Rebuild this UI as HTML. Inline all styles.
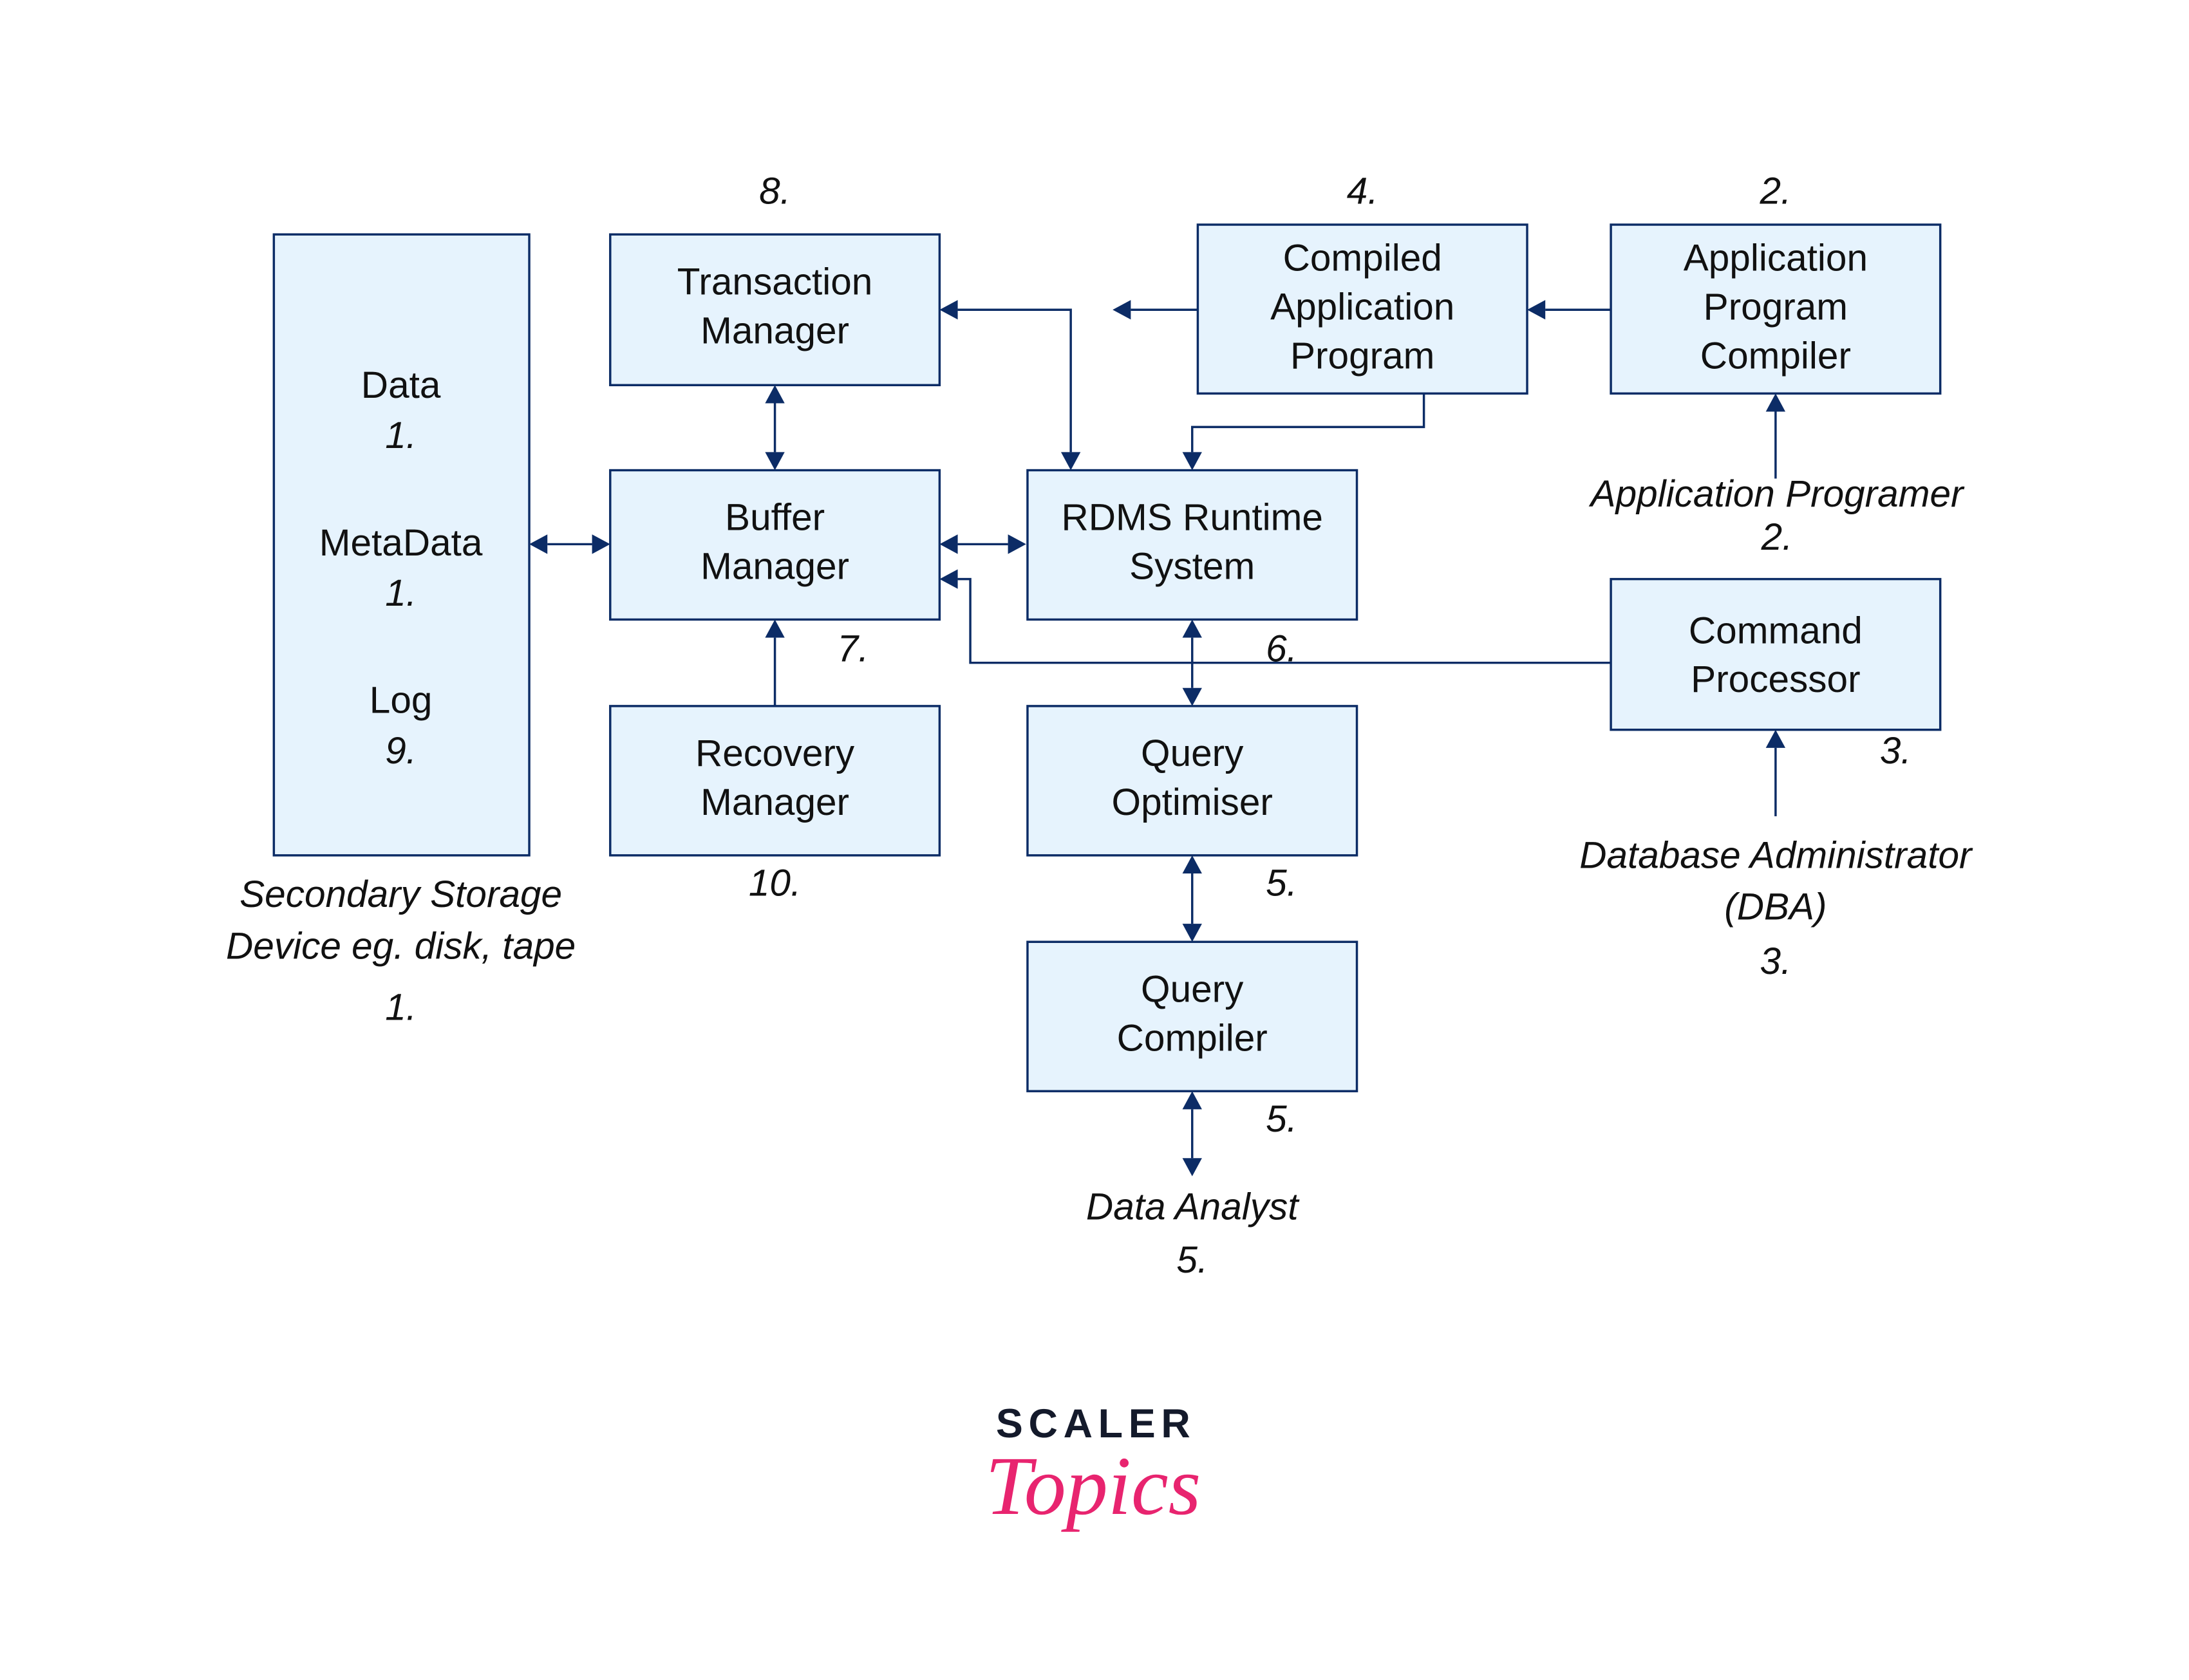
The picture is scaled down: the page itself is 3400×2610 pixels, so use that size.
<!DOCTYPE html>
<html><head><meta charset="utf-8"><style>
html,body{margin:0;padding:0;background:#fff;}
svg{display:block;}
text{font-family:"Liberation Sans Narrow","Liberation Sans",sans-serif;fill:#111;}
.b{fill:#e6f3fd;stroke:#0c2c66;stroke-width:1.6;}
.l{fill:none;stroke:#0c2c66;stroke-width:1.6;}
.t{font-size:27px;text-anchor:middle;dominant-baseline:central;}
.i{font-size:27px;font-style:italic;text-anchor:middle;dominant-baseline:central;}
.a{fill:#0c2c66;}
</style></head><body>
<svg width="3400" height="2610" viewBox="0 0 1568 1204" xmlns="http://www.w3.org/2000/svg">
<rect x="0" y="0" width="1568" height="1204" fill="#fff"/>
<!-- boxes -->
<rect class="b" x="196" y="168" width="183" height="445"/>
<rect class="b" x="437" y="168" width="236" height="108"/>
<rect class="b" x="858" y="161" width="236" height="121"/>
<rect class="b" x="1154" y="161" width="236" height="121"/>
<rect class="b" x="437" y="337" width="236" height="107"/>
<rect class="b" x="736" y="337" width="236" height="107"/>
<rect class="b" x="1154" y="415" width="236" height="108"/>
<rect class="b" x="437" y="506" width="236" height="107"/>
<rect class="b" x="736" y="506" width="236" height="107"/>
<rect class="b" x="736" y="675" width="236" height="107"/>
<!-- lines -->
<path class="l" d="M392 390H424"/>
<path class="l" d="M686 390H722"/>
<path class="l" d="M555 289V324"/>
<path class="l" d="M686 222H767V324"/>
<path class="l" d="M810 222H858"/>
<path class="l" d="M1020 282V306H854V324"/>
<path class="l" d="M1107 222H1154"/>
<path class="l" d="M1272 295V343"/>
<path class="l" d="M1154 475H695V415H686"/>
<path class="l" d="M854 457V493"/>
<path class="l" d="M854 626V662"/>
<path class="l" d="M854 795V830"/>
<path class="l" d="M555 457V506"/>
<path class="l" d="M1272 536V585"/>
<!-- arrowheads -->
<g class="a">
<polygon points="379,390 392,383 392,397"/>
<polygon points="437,390 424,383 424,397"/>
<polygon points="673,390 686,383 686,397"/>
<polygon points="735,390 722,383 722,397"/>
<polygon points="555,276 548,289 562,289"/>
<polygon points="555,337 548,324 562,324"/>
<polygon points="673,222 686,215 686,229"/>
<polygon points="767,337 760,324 774,324"/>
<polygon points="797,222 810,215 810,229"/>
<polygon points="854,337 847,324 861,324"/>
<polygon points="1094,222 1107,215 1107,229"/>
<polygon points="1272,282 1265,295 1279,295"/>
<polygon points="673,415 686,408 686,422"/>
<polygon points="854,444 847,457 861,457"/>
<polygon points="854,506 847,493 861,493"/>
<polygon points="854,613 847,626 861,626"/>
<polygon points="854,675 847,662 861,662"/>
<polygon points="854,782 847,795 861,795"/>
<polygon points="854,843 847,830 861,830"/>
<polygon points="555,444 548,457 562,457"/>
<polygon points="1272,523 1265,536 1279,536"/>
</g>
<!-- box text -->
<text class="t" x="287" y="276">Data</text>
<text class="i" x="287" y="312">1.</text>
<text class="t" x="287" y="389">MetaData</text>
<text class="i" x="287" y="425">1.</text>
<text class="t" x="287" y="502">Log</text>
<text class="i" x="287" y="538">9.</text>
<text class="t" x="555" y="202">Transaction</text>
<text class="t" x="555" y="237">Manager</text>
<text class="t" x="976" y="185">Compiled</text>
<text class="t" x="976" y="220">Application</text>
<text class="t" x="976" y="255">Program</text>
<text class="t" x="1272" y="185">Application</text>
<text class="t" x="1272" y="220">Program</text>
<text class="t" x="1272" y="255">Compiler</text>
<text class="t" x="555" y="371">Buffer</text>
<text class="t" x="555" y="406">Manager</text>
<text class="t" x="854" y="371">RDMS Runtime</text>
<text class="t" x="854" y="406">System</text>
<text class="t" x="1272" y="452">Command</text>
<text class="t" x="1272" y="487">Processor</text>
<text class="t" x="555" y="540">Recovery</text>
<text class="t" x="555" y="575">Manager</text>
<text class="t" x="854" y="540">Query</text>
<text class="t" x="854" y="575">Optimiser</text>
<text class="t" x="854" y="709">Query</text>
<text class="t" x="854" y="744">Compiler</text>
<!-- labels -->
<text class="i" x="555" y="137">8.</text>
<text class="i" x="976" y="137">4.</text>
<text class="i" x="1272" y="137">2.</text>
<text class="i" x="611" y="465">7.</text>
<text class="i" x="918" y="465">6.</text>
<text class="i" x="1358" y="538">3.</text>
<text class="i" x="555" y="633">10.</text>
<text class="i" x="918" y="633">5.</text>
<text class="i" x="918" y="802">5.</text>
<text class="i" x="1273" y="354">Application Programer</text>
<text class="i" x="1273" y="385">2.</text>
<text class="i" x="1272" y="613">Database Administrator</text>
<text class="i" x="1272" y="650">(DBA)</text>
<text class="i" x="1272" y="689">3.</text>
<text class="i" x="287" y="641">Secondary Storage</text>
<text class="i" x="287" y="678">Device eg. disk, tape</text>
<text class="i" x="287" y="722">1.</text>
<text class="i" x="854" y="865">Data Analyst</text>
<text class="i" x="854" y="903">5.</text>
<!-- logo -->
<text x="785" y="1030" style="font-family:'Liberation Sans',sans-serif;font-weight:bold;font-size:29px;letter-spacing:4px;fill:#141a2b;text-anchor:middle;">SCALER</text>
<text x="783" y="1085" style="font-family:'Liberation Serif',serif;font-style:italic;font-size:60px;fill:#e8246f;text-anchor:middle;">Topics</text>
</svg>
</body></html>
